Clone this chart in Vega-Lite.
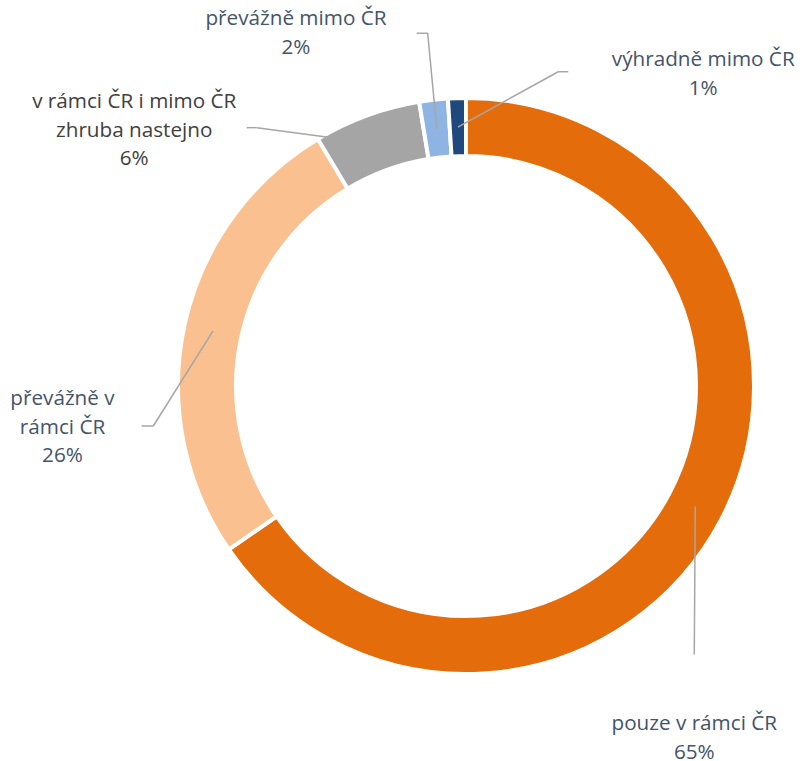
{
  "$schema": "https://vega.github.io/schema/vega-lite/v6.json",
  "width": 572,
  "height": 572,
  "autosize": "none",
  "padding": {"left": 180, "top": 100, "right": 48, "bottom": 89},
  "background": "white",
  "config": {"view": {"stroke": null}, "text": {"font": "Open Sans", "fontSize": 20.7}},
  "data": {"values": [
    {"category": "pouze v rámci ČR", "label": "pouze v rámci ČR", "value": 65.4},
    {"category": "převážně v rámci ČR", "label": "převážně v\nrámci ČR", "value": 26.0},
    {"category": "v rámci ČR i mimo ČR zhruba nastejno", "label": "v rámci ČR i mimo ČR\nzhruba nastejno", "value": 6.0},
    {"category": "převážně mimo ČR", "label": "převážně mimo ČR", "value": 1.6},
    {"category": "výhradně mimo ČR", "label": "výhradně mimo ČR", "value": 1.0}
  ]},
  "transform": [
    {"joinaggregate": [{"op": "sum", "field": "value", "as": "total"}]},
    {"window": [{"op": "sum", "field": "value", "as": "cum"}], "sort": [{"field": "value", "order": "descending"}]},
    {"calculate": "2*PI*(datum.cum - datum.value/2)/datum.total", "as": "mid"},
    {"calculate": "259*sin(datum.mid)", "as": "sx"},
    {"calculate": "-259*cos(datum.mid)", "as": "sy"},
    {"calculate": "datum.label + '\\n' + round(100*datum.value/datum.total) + '%'", "as": "text"}
  ],
  "layer": [
    {
      "mark": {"type": "arc", "innerRadius": 230, "outerRadius": 288, "stroke": "white", "strokeWidth": 4},
      "encoding": {
        "theta": {"field": "value", "type": "quantitative", "stack": true},
        "order": {"field": "value", "type": "quantitative", "sort": "descending"},
        "color": {"field": "category", "type": "nominal", "legend": null,
          "scale": {"domain": ["pouze v rámci ČR", "převážně v rámci ČR", "v rámci ČR i mimo ČR zhruba nastejno", "převážně mimo ČR", "výhradně mimo ČR"],
                    "range": ["#E46C0A", "#FAC090", "#A5A5A5", "#8DB4E2", "#1F497D"]}}
      }
    },
    {
      "transform": [
        {"filter": "datum.category == 'pouze v rámci ČR'"},
        {"calculate": "datum.sx - 1", "as": "bx"},
        {"calculate": "datum.sy + 148", "as": "by"}
      ],
      "layer": [
        {"mark": {"type": "rule", "color": "#A6A6A6", "strokeWidth": 1.5},
         "encoding": {
           "x": {"field": "sx", "type": "quantitative", "scale": {"domain": [-286, 286]}, "axis": null},
           "y": {"field": "sy", "type": "quantitative", "scale": {"domain": [-286, 286], "reverse": true}, "axis": null},
           "x2": {"field": "bx"}, "y2": {"field": "by"}}},
        {"mark": {"type": "text", "align": "center", "baseline": "middle", "lineBreak": "\n", "lineHeight": 28.5, "dx": -1, "dy": 217.75, "color": "#44546A"},
         "encoding": {
           "x": {"field": "sx", "type": "quantitative", "scale": {"domain": [-286, 286]}, "axis": null},
           "y": {"field": "sy", "type": "quantitative", "scale": {"domain": [-286, 286], "reverse": true}, "axis": null},
           "text": {"field": "text"}}}
      ]
    },
    {
      "transform": [
        {"filter": "datum.category == 'převážně v rámci ČR'"},
        {"calculate": "datum.sx - 59.6", "as": "bx"},
        {"calculate": "datum.sy + 94.9", "as": "by"},
        {"calculate": "datum.bx - 11.6", "as": "tx"}
      ],
      "layer": [
        {"mark": {"type": "rule", "color": "#A6A6A6", "strokeWidth": 1.5},
         "encoding": {
           "x": {"field": "sx", "type": "quantitative", "scale": {"domain": [-286, 286]}, "axis": null},
           "y": {"field": "sy", "type": "quantitative", "scale": {"domain": [-286, 286], "reverse": true}, "axis": null},
           "x2": {"field": "bx"}, "y2": {"field": "by"}}},
        {"mark": {"type": "rule", "color": "#A6A6A6", "strokeWidth": 1.5},
         "encoding": {
           "x": {"field": "bx", "type": "quantitative", "scale": {"domain": [-286, 286]}, "axis": null},
           "y": {"field": "by", "type": "quantitative", "scale": {"domain": [-286, 286], "reverse": true}, "axis": null},
           "x2": {"field": "tx"}}},
        {"mark": {"type": "text", "align": "center", "baseline": "middle", "lineBreak": "\n", "lineHeight": 28.5, "dx": -150.4, "dy": 68.1, "color": "#44546A"},
         "encoding": {
           "x": {"field": "sx", "type": "quantitative", "scale": {"domain": [-286, 286]}, "axis": null},
           "y": {"field": "sy", "type": "quantitative", "scale": {"domain": [-286, 286], "reverse": true}, "axis": null},
           "text": {"field": "text"}}}
      ]
    },
    {
      "transform": [
        {"filter": "datum.category == 'v rámci ČR i mimo ČR zhruba nastejno'"},
        {"calculate": "datum.sx - 48.4", "as": "ex"},
        {"calculate": "datum.sy - 5.6", "as": "ey"},
        {"calculate": "datum.sx - 120", "as": "bx"},
        {"calculate": "datum.sy - 15.2", "as": "by"},
        {"calculate": "datum.bx - 10", "as": "tx"}
      ],
      "layer": [
        {"mark": {"type": "rule", "color": "#A6A6A6", "strokeWidth": 1.5},
         "encoding": {
           "x": {"field": "ex", "type": "quantitative", "scale": {"domain": [-286, 286]}, "axis": null},
           "y": {"field": "ey", "type": "quantitative", "scale": {"domain": [-286, 286], "reverse": true}, "axis": null},
           "x2": {"field": "bx"}, "y2": {"field": "by"}}},
        {"mark": {"type": "rule", "color": "#A6A6A6", "strokeWidth": 1.5},
         "encoding": {
           "x": {"field": "bx", "type": "quantitative", "scale": {"domain": [-286, 286]}, "axis": null},
           "y": {"field": "by", "type": "quantitative", "scale": {"domain": [-286, 286], "reverse": true}, "axis": null},
           "x2": {"field": "tx"}}},
        {"mark": {"type": "text", "align": "center", "baseline": "middle", "lineBreak": "\n", "lineHeight": 28.5, "dx": -242.5, "dy": -40.8, "color": "#404040"},
         "encoding": {
           "x": {"field": "sx", "type": "quantitative", "scale": {"domain": [-286, 286]}, "axis": null},
           "y": {"field": "sy", "type": "quantitative", "scale": {"domain": [-286, 286], "reverse": true}, "axis": null},
           "text": {"field": "text"}}}
      ]
    },
    {
      "transform": [
        {"filter": "datum.category == 'převážně mimo ČR'"},
        {"calculate": "datum.sx - 9.1", "as": "bx"},
        {"calculate": "datum.sy - 95.4", "as": "by"},
        {"calculate": "datum.bx - 11", "as": "tx"}
      ],
      "layer": [
        {"mark": {"type": "rule", "color": "#A6A6A6", "strokeWidth": 1.5},
         "encoding": {
           "x": {"field": "sx", "type": "quantitative", "scale": {"domain": [-286, 286]}, "axis": null},
           "y": {"field": "sy", "type": "quantitative", "scale": {"domain": [-286, 286], "reverse": true}, "axis": null},
           "x2": {"field": "bx"}, "y2": {"field": "by"}}},
        {"mark": {"type": "rule", "color": "#A6A6A6", "strokeWidth": 1.5},
         "encoding": {
           "x": {"field": "bx", "type": "quantitative", "scale": {"domain": [-286, 286]}, "axis": null},
           "y": {"field": "by", "type": "quantitative", "scale": {"domain": [-286, 286], "reverse": true}, "axis": null},
           "x2": {"field": "tx"}}},
        {"mark": {"type": "text", "align": "center", "baseline": "middle", "lineBreak": "\n", "lineHeight": 28.5, "dx": -140.8, "dy": -109.45, "color": "#44546A"},
         "encoding": {
           "x": {"field": "sx", "type": "quantitative", "scale": {"domain": [-286, 286]}, "axis": null},
           "y": {"field": "sy", "type": "quantitative", "scale": {"domain": [-286, 286], "reverse": true}, "axis": null},
           "text": {"field": "text"}}}
      ]
    },
    {
      "transform": [
        {"filter": "datum.category == 'výhradně mimo ČR'"},
        {"calculate": "datum.sx + 100.4", "as": "bx"},
        {"calculate": "datum.sy - 55.4", "as": "by"},
        {"calculate": "datum.bx + 10", "as": "tx"}
      ],
      "layer": [
        {"mark": {"type": "rule", "color": "#A6A6A6", "strokeWidth": 1.5},
         "encoding": {
           "x": {"field": "sx", "type": "quantitative", "scale": {"domain": [-286, 286]}, "axis": null},
           "y": {"field": "sy", "type": "quantitative", "scale": {"domain": [-286, 286], "reverse": true}, "axis": null},
           "x2": {"field": "bx"}, "y2": {"field": "by"}}},
        {"mark": {"type": "rule", "color": "#A6A6A6", "strokeWidth": 1.5},
         "encoding": {
           "x": {"field": "bx", "type": "quantitative", "scale": {"domain": [-286, 286]}, "axis": null},
           "y": {"field": "by", "type": "quantitative", "scale": {"domain": [-286, 286], "reverse": true}, "axis": null},
           "x2": {"field": "tx"}}},
        {"mark": {"type": "text", "align": "center", "baseline": "middle", "lineBreak": "\n", "lineHeight": 28.5, "dx": 245.4, "dy": -66.65, "color": "#44546A"},
         "encoding": {
           "x": {"field": "sx", "type": "quantitative", "scale": {"domain": [-286, 286]}, "axis": null},
           "y": {"field": "sy", "type": "quantitative", "scale": {"domain": [-286, 286], "reverse": true}, "axis": null},
           "text": {"field": "text"}}}
      ]
    }
  ]
}
